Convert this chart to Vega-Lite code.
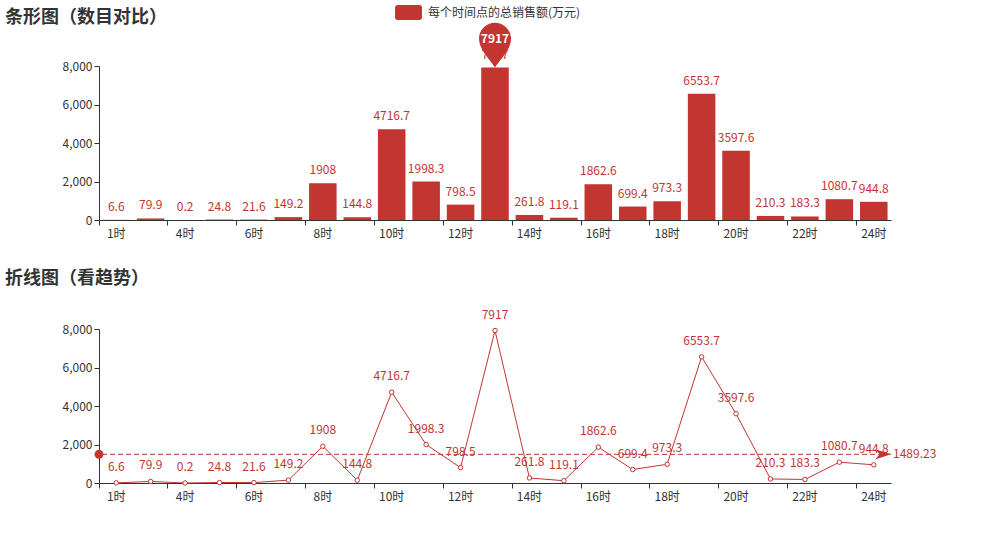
{
  "$schema": "https://vega.github.io/schema/vega-lite/v6.json",
  "background": "white",
  "padding": {"left": 5, "top": 4, "right": 5, "bottom": 5},
  "config": {
    "font": "Noto Sans CJK SC",
    "view": {"stroke": null},
    "axis": {"domainColor": "#333", "tickColor": "#333", "labelColor": "#333", "labelFontSize": 12, "grid": false, "labelFont": "Noto Sans CJK SC"},
    "title": {"fontSize": 18, "fontWeight": "bold", "color": "#333", "anchor": "start", "font": "Noto Sans CJK SC", "baseline": "bottom"}
  },
  "datasets": {
    "sales": [
      {"hour": "1时", "v": 6.6},
      {"hour": "3时", "v": 79.9},
      {"hour": "4时", "v": 0.2},
      {"hour": "5时", "v": 24.8},
      {"hour": "6时", "v": 21.6},
      {"hour": "7时", "v": 149.2},
      {"hour": "8时", "v": 1908},
      {"hour": "9时", "v": 144.8},
      {"hour": "10时", "v": 4716.7},
      {"hour": "11时", "v": 1998.3},
      {"hour": "12时", "v": 798.5},
      {"hour": "13时", "v": 7917},
      {"hour": "14时", "v": 261.8},
      {"hour": "15时", "v": 119.1},
      {"hour": "16时", "v": 1862.6},
      {"hour": "17时", "v": 699.4},
      {"hour": "18时", "v": 973.3},
      {"hour": "19时", "v": 6553.7},
      {"hour": "20时", "v": 3597.6},
      {"hour": "21时", "v": 210.3},
      {"hour": "22时", "v": 183.3},
      {"hour": "23时", "v": 1080.7},
      {"hour": "24时", "v": 944.8}
    ]
  },
  "spacing": 19,
  "vconcat": [
    {
      "width": 792,
      "height": 154,
      "title": {"text": "条形图（数目对比）", "offset": -4},
      "data": {"name": "sales"},
      "encoding": {
        "x": {"field": "hour", "type": "nominal", "sort": null, "scale": {"type": "band", "paddingInner": 0, "paddingOuter": 0},
          "axis": {"values": ["1时","4时","6时","8时","10时","12时","14时","16时","18时","20时","22时","24时"], "bandPosition": 0, "labelAngle": 0, "title": null, "tickSize": 5, "labelPadding": 3, "minExtent": 30, "maxExtent": 30}},
        "y": {"field": "v", "type": "quantitative", "scale": {"domain": [0, 8000], "nice": false},
          "axis": {"values": [0, 2000, 4000, 6000, 8000], "format": ",d", "title": null, "tickSize": 5, "labelPadding": 2, "minExtent": 94, "maxExtent": 94, "labelOverlap": false}}
      },
      "layer": [
        {
          "mark": {"type": "bar", "width": {"band": 0.8}},
          "encoding": {
            "color": {"datum": "每个时间点的总销售额(万元)", "type": "nominal", "scale": {"range": ["#c23531"]},
              "legend": {"orient": "none", "legendX": 301, "legendY": -62, "title": null,
                "symbolType": "M-1.3,-0.9 L1.3,-0.9 A0.3,0.3 0 0 1 1.6,-0.6 L1.6,0.6 A0.3,0.3 0 0 1 1.3,0.9 L-1.3,0.9 A0.3,0.3 0 0 1 -1.6,0.6 L-1.6,-0.6 A0.3,0.3 0 0 1 -1.3,-0.9 Z",
                "symbolSize": 283, "symbolStrokeWidth": 0, "symbolOpacity": 1, "labelFontSize": 12, "labelColor": "#333", "labelOffset": 11, "labelLimit": 0, "padding": 0}}
          }
        },
        {
          "mark": {"type": "text", "baseline": "bottom", "dy": -6, "color": "#c23531", "fontSize": 12},
          "encoding": {
            "text": {"field": "v", "type": "nominal"}
          }
        },
        {
          "transform": [{"joinaggregate": [{"op": "max", "field": "v", "as": "mx"}]}, {"filter": "datum.v == datum.mx"}],
          "mark": {"type": "point", "shape": "M0,0 C-0.3,-0.5 -1,-1.1 -1,-1.8 A1,1 0 1,1 1,-1.8 C1,-1.1 0.3,-0.5 0,0 Z", "filled": true, "size": 1024, "color": "#c23531", "opacity": 1}
        },
        {
          "transform": [{"joinaggregate": [{"op": "max", "field": "v", "as": "mx"}]}, {"filter": "datum.v == datum.mx"}],
          "mark": {"type": "text", "baseline": "middle", "dy": -29, "color": "white", "fontWeight": "bold", "fontSize": 12},
          "encoding": {
            "text": {"field": "v", "type": "nominal"}
          }
        }
      ]
    },
    {
      "width": 792,
      "height": 154,
      "title": {"text": "折线图（看趋势）", "offset": 21},
      "data": {"name": "sales"},
      "layer": [
        {
          "transform": [{"aggregate": [{"op": "mean", "field": "v", "as": "avg"}]}],
          "mark": {"type": "rule", "color": "#c23531", "strokeDash": [5, 3], "strokeWidth": 1},
          "encoding": {
            "y": {"field": "avg", "type": "quantitative", "scale": {"domain": [0, 8000], "nice": false},
              "axis": {"values": [0, 2000, 4000, 6000, 8000], "format": ",d", "title": null, "tickSize": 5, "labelPadding": 2, "minExtent": 94, "maxExtent": 94, "labelOverlap": false}}
          }
        },
        {
          "mark": {"type": "line", "color": "#c23531", "strokeWidth": 1},
          "encoding": {
            "x": {"field": "hour", "type": "nominal", "sort": null, "scale": {"type": "band", "paddingInner": 0, "paddingOuter": 0},
              "axis": {"values": ["1时","4时","6时","8时","10时","12时","14时","16时","18时","20时","22时","24时"], "bandPosition": 0, "labelAngle": 0, "title": null, "tickSize": 5, "labelPadding": 3, "minExtent": 30, "maxExtent": 30}},
            "y": {"field": "v", "type": "quantitative", "scale": {"domain": [0, 8000], "nice": false},
              "axis": {"values": [0, 2000, 4000, 6000, 8000], "format": ",d", "title": null, "tickSize": 5, "labelPadding": 2, "minExtent": 94, "maxExtent": 94, "labelOverlap": false}}
          }
        },
        {
          "mark": {"type": "point", "shape": "circle", "filled": true, "fill": "white", "stroke": "#c23531", "strokeWidth": 1, "size": 20, "opacity": 1},
          "encoding": {
            "x": {"field": "hour", "type": "nominal", "sort": null, "scale": {"type": "band", "paddingInner": 0, "paddingOuter": 0},
              "axis": {"values": ["1时","4时","6时","8时","10时","12时","14时","16时","18时","20时","22时","24时"], "bandPosition": 0, "labelAngle": 0, "title": null, "tickSize": 5, "labelPadding": 3, "minExtent": 30, "maxExtent": 30}},
            "y": {"field": "v", "type": "quantitative", "scale": {"domain": [0, 8000], "nice": false},
              "axis": {"values": [0, 2000, 4000, 6000, 8000], "format": ",d", "title": null, "tickSize": 5, "labelPadding": 2, "minExtent": 94, "maxExtent": 94, "labelOverlap": false}}
          }
        },
        {
          "mark": {"type": "text", "baseline": "bottom", "dy": -9, "color": "#c23531", "fontSize": 12},
          "encoding": {
            "x": {"field": "hour", "type": "nominal", "sort": null, "scale": {"type": "band", "paddingInner": 0, "paddingOuter": 0},
              "axis": {"values": ["1时","4时","6时","8时","10时","12时","14时","16时","18时","20时","22时","24时"], "bandPosition": 0, "labelAngle": 0, "title": null, "tickSize": 5, "labelPadding": 3, "minExtent": 30, "maxExtent": 30}},
            "y": {"field": "v", "type": "quantitative", "scale": {"domain": [0, 8000], "nice": false},
              "axis": {"values": [0, 2000, 4000, 6000, 8000], "format": ",d", "title": null, "tickSize": 5, "labelPadding": 2, "minExtent": 94, "maxExtent": 94, "labelOverlap": false}},
            "text": {"field": "v", "type": "nominal"}
          }
        },
        {
          "transform": [{"aggregate": [{"op": "mean", "field": "v", "as": "avg"}]}],
          "mark": {"type": "point", "shape": "circle", "filled": true, "size": 80, "color": "#c23531", "opacity": 1},
          "encoding": {
            "x": {"value": 0},
            "y": {"field": "avg", "type": "quantitative", "scale": {"domain": [0, 8000], "nice": false},
              "axis": {"values": [0, 2000, 4000, 6000, 8000], "format": ",d", "title": null, "tickSize": 5, "labelPadding": 2, "minExtent": 94, "maxExtent": 94, "labelOverlap": false}}
          }
        },
        {
          "transform": [{"aggregate": [{"op": "mean", "field": "v", "as": "avg"}]}],
          "mark": {"type": "point", "shape": "M0,0 L-2,-0.65 L-1.4,0 L-2,0.65 Z", "filled": true, "size": 256, "color": "#c23531", "opacity": 1},
          "encoding": {
            "x": {"value": "width"},
            "y": {"field": "avg", "type": "quantitative", "scale": {"domain": [0, 8000], "nice": false},
              "axis": {"values": [0, 2000, 4000, 6000, 8000], "format": ",d", "title": null, "tickSize": 5, "labelPadding": 2, "minExtent": 94, "maxExtent": 94, "labelOverlap": false}}
          }
        },
        {
          "transform": [{"aggregate": [{"op": "mean", "field": "v", "as": "avg"}]}],
          "mark": {"type": "text", "align": "left", "baseline": "middle", "dx": 2, "color": "#c23531", "fontSize": 12},
          "encoding": {
            "x": {"value": "width"},
            "y": {"field": "avg", "type": "quantitative", "scale": {"domain": [0, 8000], "nice": false},
              "axis": {"values": [0, 2000, 4000, 6000, 8000], "format": ",d", "title": null, "tickSize": 5, "labelPadding": 2, "minExtent": 94, "maxExtent": 94, "labelOverlap": false}},
            "text": {"field": "avg", "type": "quantitative", "format": ".2f"}
          }
        }
      ]
    }
  ]
}
